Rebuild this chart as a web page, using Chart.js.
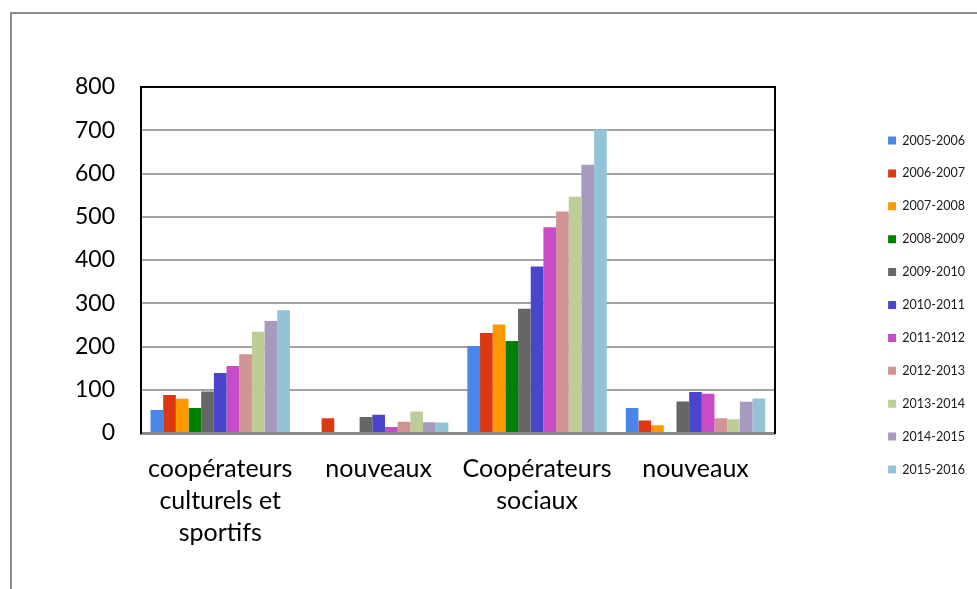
<!DOCTYPE html>
<html>
<head>
<meta charset="utf-8">
<script src="https://cdn.jsdelivr.net/npm/chart.js@4.4.1/dist/chart.umd.min.js"></script>
<style>
  html, body { margin: 0; padding: 0; background: #fff; overflow: hidden; }
  #frame { position: absolute; left: 10px; top: 12px; width: 1200px; height: 800px;
           border-left: 2px solid #8c8c8c; border-top: 2px solid #8c8c8c; }
  #myChart { position: absolute; left: 0; top: 0; }
</style>
</head>
<body>
<div id="frame"></div>
<canvas id="myChart" width="977" height="589"></canvas>
<script>
// categories on the x axis
const categories = [
    ['coopérateurs', 'culturels et', 'sportifs'],
    'nouveaux',
    ['Coopérateurs', 'sociaux'],
    'nouveaux'
];

// one series per school year
const seasons = ['2005-2006', '2006-2007', '2007-2008', '2008-2009', '2009-2010', '2010-2011',
                 '2011-2012', '2012-2013', '2013-2014', '2014-2015', '2015-2016'];

const v2005_2006 = [53, 0, 201, 58];
const v2006_2007 = [88, 34, 231, 29];
const v2007_2008 = [79, 0, 251, 18];
const v2008_2009 = [58, 0, 213, 0];
const v2009_2010 = [96, 37, 287, 73];
const v2010_2011 = [139, 42, 385, 95];
const v2011_2012 = [155, 14, 476, 91];
const v2012_2013 = [182, 26, 512, 34];
const v2013_2014 = [234, 50, 546, 32];
const v2014_2015 = [259, 25, 620, 72];
const v2015_2016 = [284, 24, 702, 80];

const yTicks = [0, 100, 200, 300, 400, 500, 600, 700, 800];

const seriesValues = [v2005_2006, v2006_2007, v2007_2008, v2008_2009, v2009_2010, v2010_2011,
                      v2011_2012, v2012_2013, v2013_2014, v2014_2015, v2015_2016];

const colors = ['#4a86e8', '#dc3912', '#ff9900', '#008000', '#666666', '#4a45cc',
                '#c84bc7', '#d19393', '#bccd97', '#a899be', '#93c3d6'];

const datasets = seasons.map((season, i) => ({
    label: season,
    data: seriesValues[i],
    backgroundColor: colors[i],
    borderWidth: 0,
    barPercentage: 1,
    categoryPercentage: 0.88
}));

const ctx = document.getElementById('myChart').getContext('2d');
const myChart = new Chart(ctx, {
    type: 'bar',
    data: {
        labels: categories,
        datasets: datasets
    },
    options: {
        responsive: false,
        animation: false,
        layout: {
            padding: { left: 10, top: 87, right: 2, bottom: 66 }
        },
        plugins: {
            legend: {
                position: 'right',
                labels: {
                    boxWidth: 8,
                    boxHeight: 8,
                    padding: 20.4,
                    color: '#1a1a1a',
                    font: { family: 'Lato', size: 12.5 }
                }
            },
            tooltip: { enabled: false }
        },
        scales: {
            x: {
                grid: { display: false },
                border: { color: '#8a8a8a', width: 3 },
                ticks: {
                    color: '#000',
                    padding: 12,
                    maxRotation: 0,
                    autoSkip: false,
                    font: { family: 'Lato', size: 25, lineHeight: 1.28 }
                },
                afterFit: scale => {
                    scale.height = 90;
                    // the 3-line label runs below the axis box, so don't clip it
                    scale._computeLabelArea = () => null;
                }
            },
            y: {
                min: 0,
                max: 800,
                afterBuildTicks: scale => { scale.ticks = yTicks.map(v => ({ value: v })); },
                grid: {
                    drawTicks: false,
                    lineWidth: 2,
                    color: c => (c.tick && c.tick.value === 800) ? '#000' : '#a3a3a3'
                },
                border: { color: '#000', width: 2 },
                ticks: {
                    color: '#000',
                    padding: 26,
                    font: { family: 'Lato', size: 23 }
                },
                afterFit: scale => { scale.width = 131; }
            },
            // empty axis on the right: gives the black right edge and the gap before the legend
            y2: {
                position: 'right',
                grid: { display: false },
                ticks: { display: false },
                border: { color: '#000', width: 2 },
                afterFit: scale => { scale.width = 93; }
            }
        }
    }
});
</script>
</body>
</html>
